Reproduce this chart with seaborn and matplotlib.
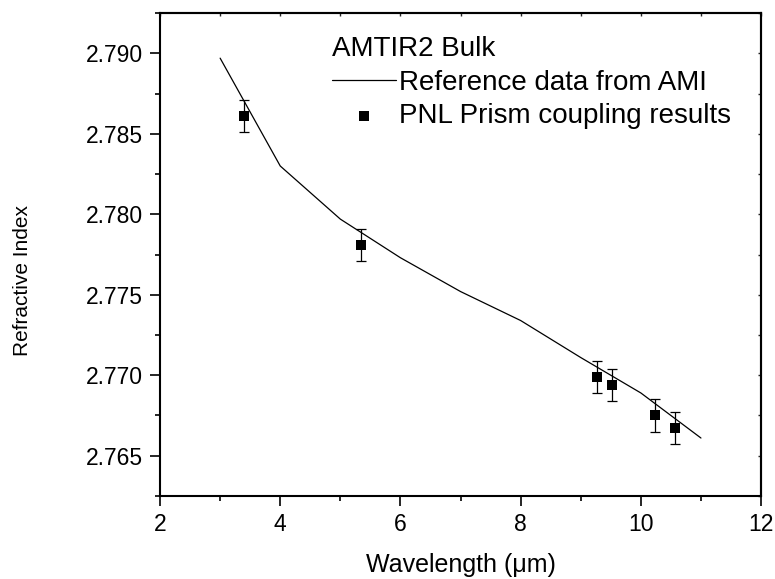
import numpy as np
import pandas as pd
import matplotlib
matplotlib.use('Agg')
import matplotlib.pyplot as plt
import seaborn as sns
from matplotlib.ticker import MultipleLocator, FormatStrFormatter

# reference curve (AMI) and measured points (PNL prism coupling)
ami_wavelength = [3, 4, 5, 6, 7, 8, 9, 10, 11]
ami_index = [2.7897, 2.7830, 2.7797, 2.7773, 2.7752, 2.7734, 2.7711, 2.7689, 2.7661]

pnl_wavelength = [3.40, 5.34, 9.27, 9.52, 10.24, 10.57]
pnl_index = [2.7861, 2.7781, 2.7699, 2.7694, 2.7675, 2.7667]
pnl_error = [0.001, 0.001, 0.001, 0.001, 0.001, 0.001]

legend_title = 'AMTIR2 Bulk'
line_label = 'Reference data from AMI'
point_label = 'PNL Prism coupling results'

sns.set_theme(style='ticks')
plt.rcParams['font.family'] = ['Liberation Sans', 'DejaVu Sans']
plt.rcParams['axes.linewidth'] = 1.5
plt.rcParams['text.color'] = 'black'
plt.rcParams['axes.labelcolor'] = 'black'

ami = pd.DataFrame({'wl': ami_wavelength, 'n': ami_index})
pnl = pd.DataFrame({'wl': pnl_wavelength, 'n': pnl_index, 'err': pnl_error})

fig = plt.figure(figsize=(7.75, 5.79), dpi=100)
ax = fig.add_axes([0.2065, 0.1434, 0.7755, 0.834])

sns.lineplot(data=ami, x='wl', y='n', ax=ax, color='black', lw=0.9, label=line_label)
ax.errorbar(pnl['wl'], pnl['n'], yerr=pnl['err'], fmt='none', ecolor='black',
            elinewidth=0.9, capsize=3.5, capthick=0.9)
sns.scatterplot(data=pnl, x='wl', y='n', ax=ax, marker='s', s=60, color='black',
                edgecolor='black', linewidth=0, label=point_label, zorder=3)

ax.set_xlim(2, 12)
ax.set_ylim(2.7625, 2.7925)
ax.xaxis.set_major_locator(MultipleLocator(2))
ax.xaxis.set_minor_locator(MultipleLocator(1))
ax.yaxis.set_major_locator(MultipleLocator(0.005))
ax.yaxis.set_minor_locator(MultipleLocator(0.0025))
ax.yaxis.set_major_formatter(FormatStrFormatter('%.3f'))

for s in ax.spines.values():
    s.set_visible(True)
    s.set_linewidth(1.5)
    s.set_color('black')

ax.tick_params(which='major', direction='out', length=7, width=1.2, colors='black',
               labelsize=16.5, pad=5)
ax.tick_params(which='minor', direction='out', length=3.5, width=1.2, colors='black')

# small inward ticks on top and right
top = ax.secondary_xaxis('top')
top.xaxis.set_major_locator(MultipleLocator(1))
top.tick_params(direction='in', length=2.5, width=1, labeltop=False)
right = ax.secondary_yaxis('right')
right.yaxis.set_major_locator(MultipleLocator(0.0025))
right.tick_params(direction='in', length=2.5, width=1, labelright=False)

ax.set_xlabel('Wavelength (\u03bcm)', fontsize=18)
ax.set_ylabel('Refractive Index', fontsize=15)
ax.xaxis.set_label_coords(0.501, -0.119)
ax.yaxis.set_label_coords(-0.213, 0.447)

leg = ax.legend(title=legend_title, loc='upper left', bbox_to_anchor=(0.286, 0.953),
                frameon=False, fontsize=20, title_fontsize=20, alignment='left',
                handlelength=2.3, handletextpad=0.1, labelspacing=0.28,
                borderpad=0, borderaxespad=0)

fig.savefig('out.png', dpi=100)
